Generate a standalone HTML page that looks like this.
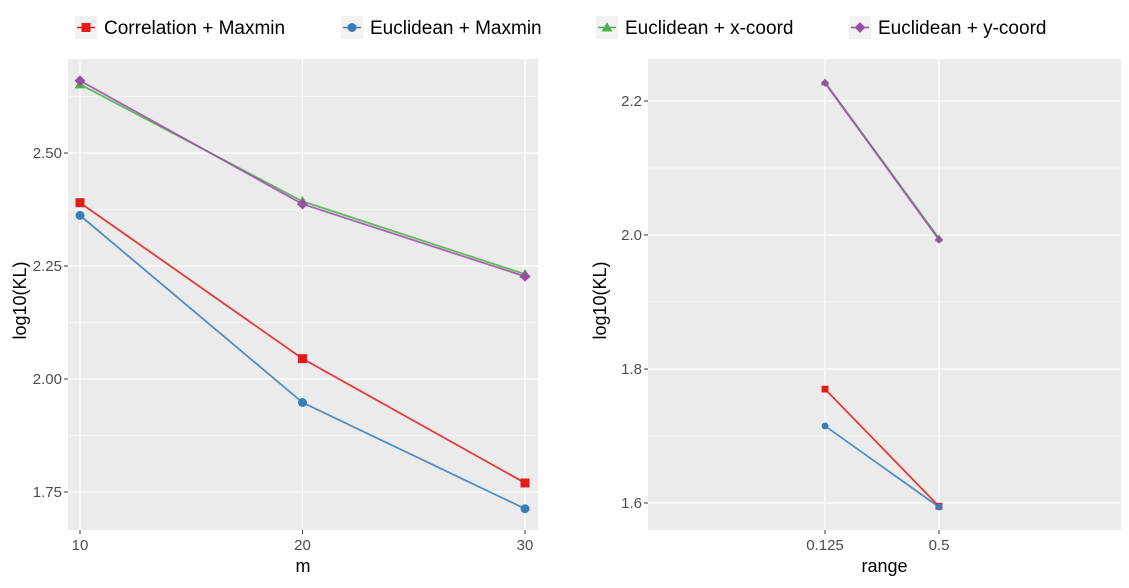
<!DOCTYPE html>
<html><head><meta charset="utf-8"><style>
body{margin:0;background:#fff;font-family:"Liberation Sans",Arial,sans-serif}
</style></head><body>
<svg id="c" width="1129" height="583" xmlns="http://www.w3.org/2000/svg"></svg>
<script>
const seriesNames=["Correlation + Maxmin","Euclidean + Maxmin","Euclidean + x-coord","Euclidean + y-coord"];
const colors=["#E41A1C","#377EB8","#4DAF4A","#984EA3"];
const shapes=["square","circle","triangle","diamond"];
const mValues=[10,20,30];
const leftCorr=[2.39,2.045,1.77];
const leftEuclMax=[2.362,1.948,1.713];
const leftX=[2.652,2.393,2.232];
const leftY=[2.66,2.387,2.227];
const rangeValues=[0.125,0.5];
const rightCorr=[1.77,1.595];
const rightEuclMax=[1.715,1.594];
const rightX=[2.228,1.995];
const rightY=[2.227,1.993];
const leftYTicks=[1.75,2.00,2.25,2.50];
const leftYLabels=["1.75","2.00","2.25","2.50"];
const rightYTicks=[1.6,1.8,2.0,2.2];
const rightYLabels=["1.6","1.8","2.0","2.2"];
const rightXLabels=["0.125","0.5"];

const svg=document.getElementById('c');const NS="http://www.w3.org/2000/svg";
function mk(t,a,p){const e=document.createElementNS(NS,t);for(const k in a)e.setAttribute(k,a[k]);(p||svg).appendChild(e);return e;}
function marker(g,s,x,y,c,r){
 if(s=="square")return mk('rect',{x:x-r,y:y-r,width:2*r,height:2*r,fill:c},g);
 if(s=="circle")return mk('circle',{cx:x,cy:y,r:r,fill:c},g);
 if(s=="triangle")return mk('polygon',{points:`${x},${y-r*1.2} ${x-r*1.2},${y+r*0.9} ${x+r*1.2},${y+r*0.9}`,fill:c},g);
 return mk('polygon',{points:`${x},${y-r*1.2} ${x+r*1.2},${y} ${x},${y+r*1.2} ${x-r*1.2},${y}`,fill:c},g);
}
const legX=[75,341,596,849];
seriesNames.forEach((n,i)=>{
 const g=mk('g',{});
 
 
 mk('rect',{x:legX[i],y:16,width:22,height:23,fill:'#F2F2F2'},g);
 mk('line',{x1:legX[i]+2,x2:legX[i]+20,y1:27.5,y2:27.5,stroke:colors[i],'stroke-width':1.6},g);
 marker(g,shapes[i],legX[i]+11,27.5,colors[i],4.5);
 const t=mk('text',{x:legX[i]+29,y:34,'font-size':19,fill:'#000'},g);t.textContent=n;
});
function panel(o){
 const g=mk('g',{});
 
 
 mk('rect',{x:o.x0,y:o.y0,width:o.x1-o.x0,height:o.y1-o.y0,fill:'#EBEBEB'},g);
 for(let i=0;i<o.yt.length-1;i++){const m=(o.yt[i]+o.yt[i+1])/2;const y=o.sy(m);mk('line',{x1:o.x0,x2:o.x1,y1:y,y2:y,stroke:'#fff','stroke-width':0.6},g);}
 const yb=o.yt[0]-(o.yt[1]-o.yt[0])/2, ye=o.yt[o.yt.length-1]+(o.yt[1]-o.yt[0])/2;
 [yb,ye].forEach(v=>{const y=o.sy(v);if(y>o.y0&&y<o.y1)mk('line',{x1:o.x0,x2:o.x1,y1:y,y2:y,stroke:'#fff','stroke-width':0.6},g);});
 o.yt.forEach((v,i)=>{const y=o.sy(v);mk('line',{x1:o.x0,x2:o.x1,y1:y,y2:y,stroke:'#fff','stroke-width':1.2},g);
  mk('line',{x1:o.x0-4,x2:o.x0,y1:y,y2:y,stroke:'#333'},g);
  const t=mk('text',{x:o.x0-6,y:y+5,'font-size':15,fill:'#4D4D4D','text-anchor':'end'},g);t.textContent=o.yl[i];});
 o.xt.forEach((v,i)=>{const x=o.sx(v);mk('line',{x1:x,x2:x,y1:o.y0,y2:o.y1,stroke:'#fff','stroke-width':1.2},g);
  mk('line',{x1:x,x2:x,y1:o.y1,y2:o.y1+4,stroke:'#333'},g);
  const t=mk('text',{x:x,y:o.y1+20,'font-size':15,fill:'#4D4D4D','text-anchor':'middle'},g);t.textContent=o.xl[i];});
 const xt=mk('text',{x:(o.x0+o.x1)/2,y:572,'font-size':18,'text-anchor':'middle'},g);xt.textContent=o.xtitle;
 const cy=(o.y0+o.y1)/2;
 const yt=mk('text',{x:o.x0-48,y:cy,'font-size':18,'text-anchor':'middle',transform:`rotate(-90 ${o.x0-48+6} ${cy})`},g);yt.textContent='log10(KL)';
 o.series.forEach((s,i)=>{
  const pts=s.map((v,j)=>[o.sx(o.xv[j]),o.sy(v)]);
  const p=mk('polyline',{points:pts.map(q=>q.join(',')).join(' '),fill:'none',stroke:colors[i],'stroke-width':1.8,opacity:0.85},g);
  
  pts.forEach(q=>{const m=marker(g,shapes[i],q[0],q[1],colors[i],o.r);});
 });
}
panel({name:'left-panel',x0:68,x1:538,y0:59,y1:530,
 sx:v=>80+(v-10)*22.25, sy:v=>379-(v-2.0)*452,
 yt:leftYTicks,yl:leftYLabels,xt:mValues,xl:mValues.map(String),
 xv:mValues,xtitle:'m',r:4.5,series:[leftCorr,leftEuclMax,leftX,leftY]});
panel({name:'right-panel',x0:648,x1:1121,y0:59,y1:530,
 sx:v=>939+Math.log2(v/0.5)*57, sy:v=>235-(v-2.0)*670,
 yt:rightYTicks,yl:rightYLabels,xt:rangeValues,xl:rightXLabels,
 xv:rangeValues,xtitle:'range',r:3.4,series:[rightCorr,rightEuclMax,rightX,rightY]});
</script>
</body></html>
